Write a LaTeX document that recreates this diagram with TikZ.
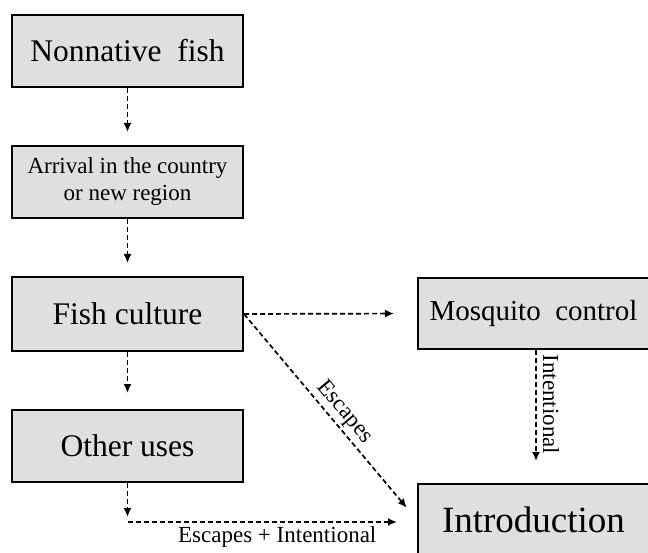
\documentclass[tikz,border=0pt]{standalone}
\usepackage{fontspec}
\setmainfont{Liberation Serif}
\usetikzlibrary{positioning, arrows.meta}

\tikzset{
  box/.style={draw=black, line width=2pt, fill=gray!25, minimum width=231pt, minimum height=72pt, inner sep=0pt},
  link/.style={->, dashed, dash pattern=on 5pt off 3pt, line width=1.7pt},
  bigtext/.style={font=\fontsize{31.5}{35}\selectfont},
  smalltext/.style={font=\fontsize{23}{27}\selectfont}
}

\begin{document}
\begin{tikzpicture}[x=1pt, y=-1pt, >={Latex[length=9pt, width=8pt]}]

        % Fix the page size
        \useasboundingbox (0,0) rectangle (648,553);
        \clip (0,0) rectangle (648,553);

        % Draw the boxes
        \node[box, bigtext] (nonnative) at (127.5,51) {Nonnative\ \ fish};
        \node[box, smalltext, align=center] (arrival) at (127.5,182) {Arrival in the country\\or new region};
        \node[box, bigtext, minimum height=74pt] (culture) at (127.5,314) {Fish culture};
        \node[box, bigtext] (other) at (127.5,446) {Other uses};
        \node[box, minimum height=71pt, font=\fontsize{29}{33}\selectfont] (mosquito) at (533.5,313.5) {Mosquito\ \ control};
        \node[box, minimum height=72pt, font=\fontsize{37}{40}\selectfont] (intro) at (533.5,520) {Introduction};

        % Corner of the lower path
        \coordinate (turn) at (other.south |- 0,522);

        % Draw the links down the left column
        \draw[link, shorten >=13pt] (nonnative) -- (arrival);
        \draw[link, shorten >=13pt] (arrival) -- (culture);
        \draw[link, shorten >=16pt] (culture) -- (other);
        \draw[link, shorten >=5pt] (other) -- (turn);

        % Draw the links to the right column
        \draw[link, shorten >=23pt] (culture.east) -- (mosquito.west);
        \draw[link, shorten >=16pt] (culture.east) -- (intro.west)
              node[pos=0.52, sloped, above, inner sep=3pt, smalltext] {Escapes};
        \draw[link, shorten >=22pt] ([xshift=2.5pt]mosquito.south) -- ([xshift=2.5pt]intro.north)
              node[pos=0.41, sloped, above, inner sep=6pt, smalltext] {Intentional};
        \draw[link, shorten >=20pt] (turn) -- (turn -| intro.west)
              node[midway, below, xshift=5pt, inner sep=4pt, smalltext] {Escapes + Intentional};

      \end{tikzpicture}
\end{document}
